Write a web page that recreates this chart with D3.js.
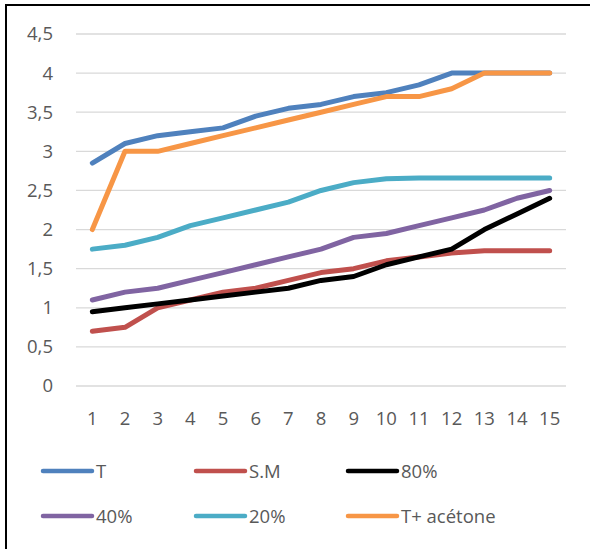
<!DOCTYPE html>
<html>
<head>
<meta charset="utf-8">
<script src="https://cdn.jsdelivr.net/npm/d3@7/dist/d3.min.js"></script>
<style>
  html, body { margin: 0; padding: 0; background: #fff; }
  svg { display: block; }
  text { font-family: "Open Sans", Lato, sans-serif; fill: #595959; }
</style>
</head>
<body>
<svg id="chart" width="590" height="549"></svg>
<script>
// Categories along the x axis
const categories = [1, 2, 3, 4, 5, 6, 7, 8, 9, 10, 11, 12, 13, 14, 15];

// Y axis ticks
const yTicks = [0, 0.5, 1, 1.5, 2, 2.5, 3, 3.5, 4, 4.5];

// Series names (legend order)
const seriesNames = ["T", "S.M", "80%", "40%", "20%", "T+ acétone"];

// Series values
const valuesT       = [2.85, 3.1, 3.2, 3.25, 3.3, 3.45, 3.55, 3.6, 3.7, 3.75, 3.85, 4.0, 4.0, 4.0, 4.0];
const valuesSM      = [0.7, 0.75, 1.0, 1.1, 1.2, 1.25, 1.35, 1.45, 1.5, 1.6, 1.65, 1.7, 1.73, 1.73, 1.73];
const values80      = [0.95, 1.0, 1.05, 1.1, 1.15, 1.2, 1.25, 1.35, 1.4, 1.55, 1.65, 1.75, 2.0, 2.2, 2.4];
const values40      = [1.1, 1.2, 1.25, 1.35, 1.45, 1.55, 1.65, 1.75, 1.9, 1.95, 2.05, 2.15, 2.25, 2.4, 2.5];
const values20      = [1.75, 1.8, 1.9, 2.05, 2.15, 2.25, 2.35, 2.5, 2.6, 2.65, 2.66, 2.66, 2.66, 2.66, 2.66];
const valuesAcetone = [2.0, 3.0, 3.0, 3.1, 3.2, 3.3, 3.4, 3.5, 3.6, 3.7, 3.7, 3.8, 4.0, 4.0, 4.0];

const seriesColors = ["#4F81BD", "#C0504D", "#000000", "#8064A2", "#4BACC6", "#F79646"];

const series = seriesNames.map((name, i) => ({
  name,
  color: seriesColors[i],
  values: [valuesT, valuesSM, values80, values40, values20, valuesAcetone][i]
}));

const FONT = "'Open Sans', Lato, sans-serif";
const FONT_SIZE = 18.5;

const svg = d3.select("#chart");

// Frame lines on the top and left edges
svg.append("line").attr("x1", 5).attr("x2", 590).attr("y1", 5).attr("y2", 5)
  .attr("stroke", "#000").attr("stroke-width", 2);
svg.append("line").attr("x1", 6).attr("x2", 6).attr("y1", 5).attr("y2", 549)
  .attr("stroke", "#000").attr("stroke-width", 2);

const plot = { left: 76, right: 566, top: 34, bottom: 386 };

const x = d3.scaleBand()
  .domain(categories)
  .range([plot.left, plot.right]);

const y = d3.scaleLinear()
  .domain([0, 4.5])
  .range([plot.bottom, plot.top]);

// Horizontal gridlines
svg.append("g")
  .selectAll("line")
  .data(yTicks)
  .join("line")
  .attr("x1", plot.left)
  .attr("x2", plot.right)
  .attr("y1", d => y(d))
  .attr("y2", d => y(d))
  .attr("stroke", "#d9d9d9")
  .attr("stroke-width", 1.3);

// Y axis labels
const fmt = d => String(d).replace(".", ",");
const yAxis = svg.append("g")
  .attr("transform", `translate(${plot.left - 23},0)`)
  .call(d3.axisLeft(y).tickValues(yTicks).tickFormat(fmt).tickSize(0).tickPadding(0));
yAxis.select(".domain").remove();
yAxis.selectAll("text")
  .attr("font-size", FONT_SIZE)
  .style("font-family", FONT)
  .attr("fill", "#595959");

// X axis labels
const xAxis = svg.append("g")
  .attr("transform", `translate(0,${plot.bottom + 26})`)
  .call(d3.axisBottom(x).tickSize(0).tickPadding(0));
xAxis.select(".domain").remove();
xAxis.selectAll("text")
  .attr("font-size", FONT_SIZE)
  .style("font-family", FONT)
  .attr("fill", "#595959");

// Series lines
const line = d3.line()
  .x((d, i) => x(categories[i]) + x.bandwidth() / 2)
  .y(d => y(d));

svg.append("g")
  .selectAll("path")
  .data(series)
  .join("path")
  .attr("d", d => line(d.values))
  .attr("fill", "none")
  .attr("stroke", d => d.color)
  .attr("stroke-width", 5)
  .attr("stroke-linecap", "round")
  .attr("stroke-linejoin", "round");

// Legend: two rows of three entries
const legendCols = [43, 196, 348];
const legendRows = [471, 516];
const legend = svg.append("g")
  .selectAll("g")
  .data(series)
  .join("g")
  .attr("transform", (d, i) => `translate(${legendCols[i % 3]},${legendRows[Math.floor(i / 3)]})`);

legend.append("line")
  .attr("x1", 0).attr("x2", 49)
  .attr("y1", 0).attr("y2", 0)
  .attr("stroke", d => d.color)
  .attr("stroke-width", 4.5)
  .attr("stroke-linecap", "round");

legend.append("text")
  .attr("x", 53)
  .attr("y", 0)
  .attr("dy", "0.36em")
  .attr("font-size", FONT_SIZE)
  .style("font-family", FONT)
  .text(d => d.name);
</script>
</body>
</html>
